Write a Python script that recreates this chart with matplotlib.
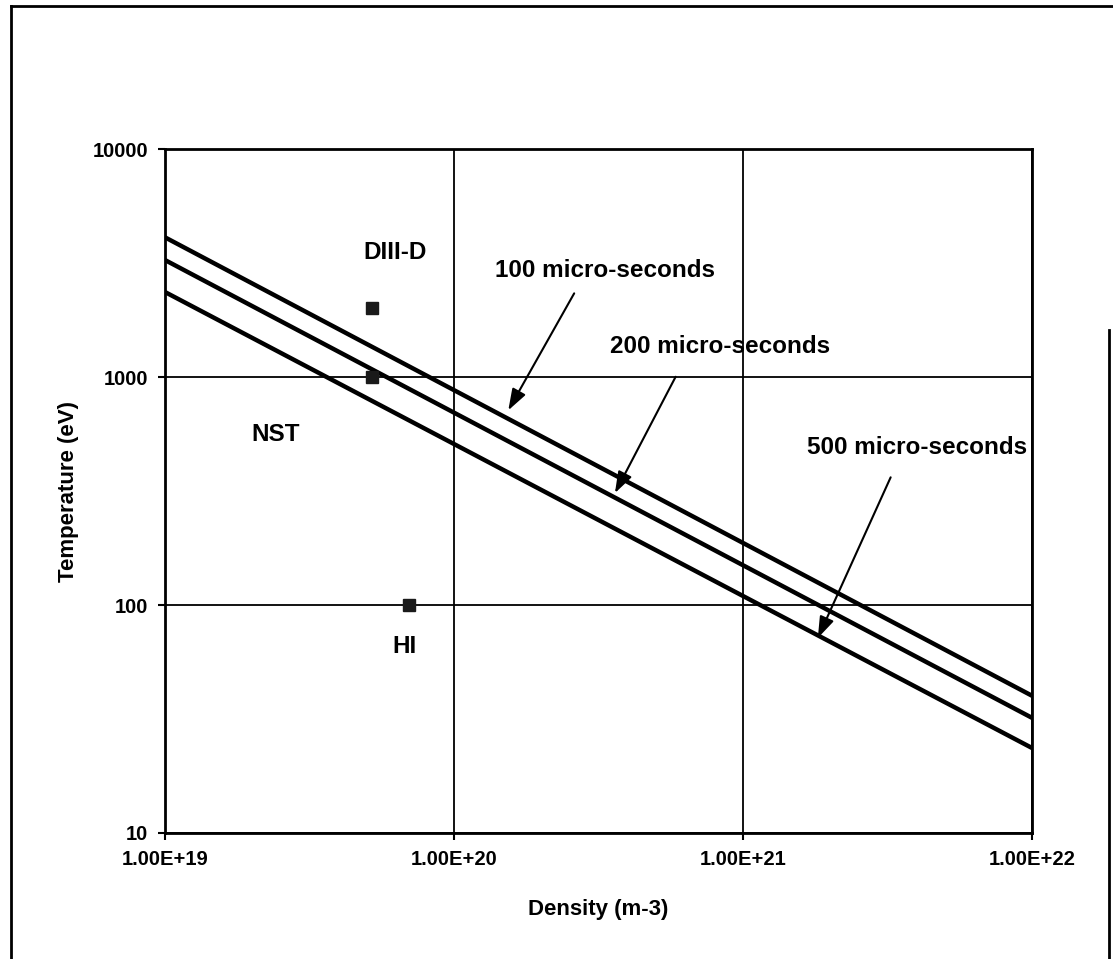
import matplotlib
matplotlib.use('Agg')
import matplotlib.pyplot as plt
from matplotlib.lines import Line2D
from matplotlib.ticker import FixedLocator, FixedFormatter, NullLocator

plt.rcParams['font.family'] = ['Liberation Sans', 'DejaVu Sans']
plt.rcParams['font.weight'] = 'bold'

# confinement-time lines (straight on log-log, two end points each)
density_ends = [1e19, 1e22]
temp_100us = [4100, 40]
temp_200us = [3260, 32]
temp_500us = [2360, 23.6]

# machines
machines = ['DIII-D', 'NST', 'HI']
machine_density = [5.2e19, 5.2e19, 7.0e19]
machine_temp = [2000, 1000, 100]

x_ticks = [1e19, 1e20, 1e21, 1e22]
x_tick_labels = ['1.00E+19', '1.00E+20', '1.00E+21', '1.00E+22']
y_ticks = [10, 100, 1000, 10000]
y_tick_labels = ['10', '100', '1000', '10000']

fig = plt.figure(figsize=(11.13, 9.59), dpi=100)
ax = fig.add_axes([0.1482, 0.1314, 0.7790, 0.7132])

for temps in (temp_100us, temp_200us, temp_500us):
    ax.plot(density_ends, temps, color='black', lw=3.2, solid_capstyle='butt', zorder=3)

ax.plot(machine_density, machine_temp, 's', color='#1a1a1a', ms=8.5, zorder=4)

ax.set_xscale('log')
ax.set_yscale('log')
ax.set_xlim(1e19, 1e22)
ax.set_ylim(10, 10000)
ax.xaxis.set_major_locator(FixedLocator(x_ticks))
ax.xaxis.set_major_formatter(FixedFormatter(x_tick_labels))
ax.yaxis.set_major_locator(FixedLocator(y_ticks))
ax.yaxis.set_major_formatter(FixedFormatter(y_tick_labels))
ax.xaxis.set_minor_locator(NullLocator())
ax.yaxis.set_minor_locator(NullLocator())
ax.grid(True, color='black', lw=1.3)
ax.tick_params(direction='out', length=5, width=1.5, labelsize=14.5, pad=7)
for lab in ax.get_xticklabels() + ax.get_yticklabels():
    lab.set_fontweight('bold')
for s in ax.spines.values():
    s.set_linewidth(2)

ax.set_xlabel('Density (m-3)', fontsize=16, fontweight='bold', labelpad=22)
ax.set_ylabel('Temperature (eV)', fontsize=16, fontweight='bold', labelpad=10)

txt = dict(fontsize=17.5, fontweight='bold', ha='center', va='center')
ax.text(0.265, 0.849, 'DIII-D', transform=ax.transAxes, **txt)
ax.text(0.128, 0.583, 'NST', transform=ax.transAxes, **txt)
ax.text(0.276, 0.273, 'HI', transform=ax.transAxes, **txt)

arrow = dict(arrowstyle='-|>,head_length=1.3,head_width=0.45', color='black', lw=1.5,
             shrinkA=0, shrinkB=0)
labels = [
    ('100 micro-seconds', (0.507, 0.823), (0.472, 0.789), (0.396, 0.618)),
    ('200 micro-seconds', (0.640, 0.711), (0.589, 0.667), (0.519, 0.497)),
    ('500 micro-seconds', (0.867, 0.563), (0.837, 0.520), (0.753, 0.285)),
]
for text, pos, tail, tip in labels:
    ax.text(pos[0], pos[1], text, transform=ax.transAxes, **txt)
    ax.annotate('', xy=tip, xycoords='axes fraction', xytext=tail,
                textcoords='axes fraction', arrowprops=arrow)

# outer frame of the scanned page
fig.add_artist(Line2D([0.0099, 0.0099], [0.0, 0.9937], transform=fig.transFigure, color='black', lw=2))
fig.add_artist(Line2D([0.0099, 1.0], [0.9937, 0.9937], transform=fig.transFigure, color='black', lw=2))
fig.add_artist(Line2D([0.9964, 0.9964], [0.0, 0.656], transform=fig.transFigure, color='black', lw=2))

fig.savefig('out.png', dpi=100)
